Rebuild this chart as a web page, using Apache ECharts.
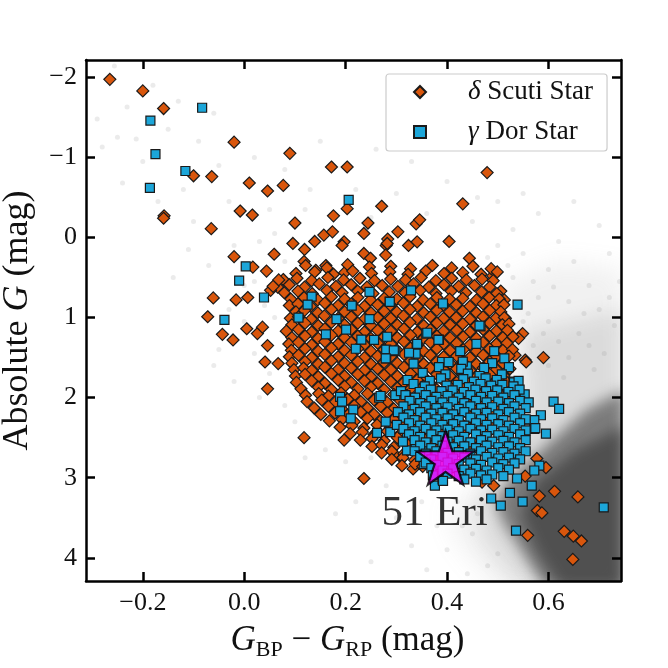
<!DOCTYPE html>
<html lang="en">
<head>
    <meta charset="UTF-8">
    <title>51 Eri CMD</title>
    <script src="https://cdn.jsdelivr.net/npm/echarts@6/dist/echarts.min.js"></script>
    <style>
        * { margin: 0; padding: 0; }
        body { background: #fff; }
        #paint { width: 668px; height: 668px; }
    </style>
</head>
<body>
<div id="paint"></div>
<script>
    // tick positions
    var xTicks = [-0.2, 0.0, 0.2, 0.4, 0.6];
    var yTicks = [-2, -1, 0, 1, 2, 3, 4];

    // field stars: faint single dots
    var fieldStars = [
        [-0.29,-1.48],[-0.256,-2.14],[-0.231,-1.63],[-0.25,-1.25],[-0.28,-1.13],[-0.213,-1.23],[-0.24,-0.68],
        [-0.18,-1.9],[-0.13,-1.7],[-0.06,-1.55],[-0.15,-1.35],[-0.09,-1.2],[-0.2,-0.95],[-0.12,-0.6],[-0.17,-0.45],
        [-0.05,-0.9],[0.02,-1.0],[-0.03,-0.45],[0.05,-0.35],[-0.1,-0.2],[0.08,-0.85],[0.13,-0.6],[0.15,-1.2],
        [0.06,-0.05],[-0.02,0.1],[0.03,0.05],[-0.07,0.35],[-0.11,0.15],[-0.14,0.5],[0.0,0.6],[-0.03,0.9],
        [0.02,0.55],[0.08,0.3],[0.12,-0.35],[0.22,-0.6],[0.25,-0.25],[0.3,-0.55],[0.36,-0.3],[0.4,-0.7],
        [0.33,-0.95],[0.26,-1.1],[0.04,0.85],[0.06,1.0],[0.02,1.45],[0.0,1.05],[-0.05,1.4],[0.05,1.7],
        [0.08,2.1],[0.1,2.3],[0.03,2.0],[-0.02,1.8],[-0.06,1.6],[0.14,2.2],[0.16,2.65],[0.2,2.8],[0.12,2.75],
        [0.25,2.75],[0.28,3.1],[0.22,3.3],[0.3,3.5],[0.18,3.45],[0.35,3.3],[0.25,4.05],[0.33,3.85],[0.38,3.6],
        [0.4,3.9],[0.36,4.15],[0.45,-0.2],[0.5,-0.45],[0.53,-0.1],[0.58,-0.3],[0.62,0.05],[0.55,0.2],[0.6,0.4],
        [0.65,0.3],[0.68,0.6],[0.72,0.2],[0.7,0.9],[0.64,0.8],[0.58,0.75],[0.53,0.5],[0.5,0.1],[0.48,0.25],
        [0.6,1.05],[0.66,1.2],[0.73,1.1],[0.71,1.45],[0.62,1.3],[0.56,0.95],[0.52,0.35],[0.57,0.55],[0.69,1.65],
        [0.63,1.75],[0.74,0.55],[0.46,-0.5],[0.55,-0.55],[0.65,-0.45],[0.7,-0.15],[0.42,3.3],[0.45,3.7],
        [0.48,4.1],[0.44,4.2],[0.5,3.95],[0.46,3.45],[0.43,3.6],[0.61,0.62],[0.67,0.95],[0.59,1.2],[0.72,0.75],
        [0.55,1.05],[0.64,1.5],[0.57,1.35],[0.68,1.35],[0.6,1.6]
    ];

    // field stars: density outlines, light to dark
    var fieldHazeOuter = [[0.50,0.6],[0.62,0.3],[0.75,0.4],[0.75,4.4],[0.50,4.4],[0.42,3.8],[0.40,3.4],[0.47,3.1],[0.53,2.2],[0.53,1.2]];
    var fieldHazeMid = [[0.55,1.2],[0.75,0.9],[0.75,4.4],[0.55,4.4],[0.47,3.75],[0.46,3.3],[0.52,2.7],[0.56,2.0]];
    var fieldHazeDark = [[0.75,1.9],[0.75,4.4],[0.595,4.4],[0.55,3.95],[0.51,3.55],[0.495,3.3],[0.525,3.0],[0.595,2.6],[0.675,2.15]];
    var fieldHazeCore = [[0.75,2.35],[0.75,4.4],[0.625,4.4],[0.575,3.9],[0.545,3.45],[0.575,3.05],[0.655,2.65]];

    // delta Scuti stars, isolated ones
    var scutiOutliers = [
        [-0.265,-1.975],[-0.200,-1.83],[-0.159,-1.61],[-0.020,-1.19],[0.090,-1.05],[-0.10,-0.77],[-0.064,-0.76],
        [0.010,-0.68],[0.046,-0.58],[0.077,-0.65],[-0.008,-0.33],[0.016,-0.28],[-0.158,-0.27],[-0.159,-0.24],
        [-0.065,-0.11],[0.10,-0.18],[0.096,0.075],[0.119,0.15],[0.139,0.05],[0.157,-0.03],[0.174,-0.07],
        [0.176,-0.27],[0.172,-0.88],[0.203,-0.88],[0.479,-0.81],[0.203,-0.36],[0.271,-0.39],[0.431,-0.42],
        [0.244,-0.18],[0.236,-0.05],[0.303,-0.07],[0.339,-0.17],[0.346,-0.22],[0.197,0.055],[0.193,0.10],
        [0.324,0.10],[0.341,0.055],[0.404,0.05],[0.283,0.02],[0.28,0.10],[0.444,0.26],[0.49,0.48],[-0.02,0.24],
        [0.059,0.21],[0.044,0.42],[0.017,0.37],[-0.061,0.755],[-0.016,0.78],[0.007,0.75],[-0.072,0.99],
        [0.005,1.14],[-0.043,1.21],[-0.022,1.28],[0.026,1.2],[0.036,1.12],[0.046,1.35],[0.041,1.555],
        [0.067,1.575],[0.046,1.89],[0.118,2.5],[0.197,2.53],[0.236,3.01],[0.333,2.89],[0.298,2.72],[0.311,2.76],
        [0.236,0.20],[0.249,0.26],[0.282,0.075],[0.279,0.22],[0.118,0.30],[0.141,0.41],[0.161,0.35],
        [0.198,0.44],[0.077,0.525],[0.066,0.62],[0.052,0.66],[0.506,0.67],[0.513,0.78],[0.526,1.22],
        [0.549,1.20],[0.541,1.26],[0.59,1.50],[0.554,1.53],[0.556,1.555],[0.518,1.49],[0.534,1.47],[0.515,1.01],
        [0.612,3.17],[0.658,3.24],[0.582,3.23],[0.578,3.41],[0.587,3.44],[0.559,3.72],[0.631,3.67],[0.649,3.73],
        [0.665,3.79],[0.648,4.02],[0.554,2.98],[0.595,2.875],[0.577,2.76],[0.469,3.055],[0.492,3.10]
    ];

    // delta Scuti stars, main clump
    var scutiCluster = [
        [0.121,0.35],[0.163,0.38],[0.204,0.34],[0.247,0.37],[0.289,0.36],[0.328,0.39],[0.371,0.35],[0.409,0.38],[0.451,0.36],[0.487,0.39],
        [0.102,0.45],[0.139,0.43],[0.176,0.46],[0.214,0.42],[0.251,0.45],[0.287,0.43],[0.323,0.46],[0.358,0.42],[0.394,0.45],[0.431,0.44],[0.467,0.46],[0.499,0.43],
        [0.068,0.53],[0.104,0.51],[0.133,0.54],[0.165,0.50],[0.196,0.53],[0.228,0.51],[0.257,0.54],[0.289,0.52],[0.318,0.53],[0.349,0.50],[0.378,0.54],[0.409,0.51],[0.438,0.53],[0.469,0.52],[0.491,0.54],
        [0.057,0.61],[0.089,0.59],[0.119,0.62],[0.148,0.58],[0.181,0.61],[0.211,0.59],[0.242,0.62],[0.272,0.60],[0.303,0.61],[0.334,0.58],[0.364,0.62],[0.394,0.59],[0.423,0.61],[0.454,0.60],[0.484,0.62],
        [0.079,0.69],[0.106,0.67],[0.134,0.70],[0.163,0.66],[0.193,0.69],[0.224,0.67],[0.254,0.70],[0.286,0.68],[0.317,0.69],[0.347,0.66],[0.378,0.70],[0.408,0.67],[0.437,0.69],[0.468,0.68],[0.498,0.70],
        [0.092,0.77],[0.118,0.75],[0.145,0.78],[0.172,0.74],[0.198,0.77],[0.224,0.75],[0.249,0.78],[0.276,0.76],[0.301,0.77],[0.327,0.74],[0.353,0.78],[0.380,0.75],[0.405,0.77],[0.431,0.76],[0.458,0.78],[0.483,0.75],[0.503,0.77],
        [0.089,0.85],[0.106,0.83],[0.131,0.86],[0.159,0.82],[0.185,0.85],[0.211,0.83],[0.237,0.86],[0.263,0.84],[0.288,0.85],[0.314,0.82],[0.341,0.86],[0.367,0.83],[0.392,0.85],[0.418,0.84],[0.445,0.86],[0.471,0.83],[0.497,0.85],[0.512,0.84],
        [0.102,0.93],[0.119,0.91],[0.145,0.94],[0.172,0.90],[0.198,0.93],[0.224,0.91],[0.250,0.94],[0.276,0.92],[0.301,0.93],[0.327,0.90],[0.354,0.94],[0.380,0.91],[0.405,0.93],[0.431,0.92],[0.458,0.94],[0.484,0.91],[0.506,0.93],
        [0.091,1.01],[0.107,0.99],[0.132,1.02],[0.158,0.98],[0.185,1.01],[0.211,0.99],[0.237,1.02],[0.263,1.00],[0.289,1.01],[0.314,0.98],[0.340,1.02],[0.367,0.99],[0.393,1.01],[0.418,1.00],[0.445,1.02],[0.471,0.99],[0.496,1.01],[0.513,1.00],
        [0.094,1.09],[0.120,1.07],[0.146,1.10],[0.172,1.06],[0.198,1.09],[0.224,1.07],[0.250,1.10],[0.276,1.08],[0.302,1.09],[0.327,1.06],[0.354,1.10],[0.380,1.07],[0.406,1.09],[0.431,1.08],[0.458,1.10],[0.484,1.07],[0.509,1.09],[0.522,1.08],
        [0.083,1.17],[0.107,1.15],[0.133,1.18],[0.159,1.14],[0.185,1.17],[0.211,1.15],[0.237,1.18],[0.263,1.16],[0.289,1.17],[0.315,1.14],[0.341,1.18],[0.367,1.15],[0.393,1.17],[0.419,1.16],[0.445,1.18],[0.471,1.15],[0.497,1.17],[0.519,1.16],
        [0.094,1.25],[0.120,1.23],[0.146,1.26],[0.172,1.22],[0.198,1.25],[0.224,1.23],[0.250,1.26],[0.276,1.24],[0.302,1.25],[0.328,1.22],[0.354,1.26],[0.380,1.23],[0.406,1.25],[0.432,1.24],[0.458,1.26],[0.484,1.23],[0.510,1.25],[0.530,1.24],
        [0.088,1.33],[0.107,1.31],[0.133,1.34],[0.159,1.30],[0.185,1.33],[0.211,1.31],[0.237,1.34],[0.263,1.32],[0.289,1.33],[0.315,1.30],[0.341,1.34],[0.367,1.31],[0.393,1.33],[0.419,1.32],[0.445,1.34],[0.471,1.31],[0.497,1.33],[0.518,1.32],
        [0.093,1.41],[0.120,1.39],[0.146,1.42],[0.172,1.38],[0.198,1.41],[0.224,1.39],[0.250,1.42],[0.276,1.40],[0.302,1.41],[0.328,1.38],[0.354,1.42],[0.380,1.39],[0.406,1.41],[0.432,1.40],[0.458,1.42],[0.484,1.39],[0.510,1.41],[0.529,1.40],
        [0.089,1.49],[0.107,1.47],[0.133,1.50],[0.159,1.46],[0.185,1.49],[0.211,1.47],[0.237,1.50],[0.263,1.48],[0.289,1.49],[0.315,1.46],[0.341,1.50],[0.367,1.47],[0.393,1.49],[0.419,1.48],[0.445,1.50],[0.471,1.47],[0.497,1.49],[0.522,1.48],
        [0.094,1.57],[0.120,1.55],[0.146,1.58],[0.172,1.54],[0.198,1.57],[0.224,1.55],[0.250,1.58],[0.276,1.56],[0.302,1.57],[0.328,1.54],[0.354,1.58],[0.380,1.55],[0.406,1.57],[0.432,1.56],[0.458,1.58],[0.484,1.55],[0.510,1.57],
        [0.098,1.65],[0.117,1.63],[0.133,1.66],[0.159,1.62],[0.185,1.65],[0.211,1.63],[0.237,1.66],[0.263,1.64],[0.289,1.65],[0.315,1.62],[0.341,1.66],[0.367,1.63],[0.393,1.65],[0.419,1.64],[0.445,1.66],[0.471,1.63],[0.497,1.65],[0.524,1.64],
        [0.101,1.73],[0.120,1.71],[0.146,1.74],[0.172,1.70],[0.198,1.73],[0.224,1.71],[0.250,1.74],[0.276,1.72],[0.302,1.73],[0.328,1.70],[0.354,1.74],[0.380,1.71],[0.406,1.73],[0.432,1.72],[0.458,1.74],[0.484,1.71],[0.512,1.73],
        [0.103,1.81],[0.133,1.79],[0.159,1.82],[0.185,1.78],[0.211,1.81],[0.237,1.79],[0.263,1.82],[0.289,1.80],[0.315,1.81],[0.341,1.78],[0.367,1.82],[0.393,1.79],[0.419,1.81],[0.445,1.80],[0.471,1.82],[0.497,1.79],[0.518,1.81],
        [0.112,1.89],[0.146,1.87],[0.172,1.90],[0.198,1.86],[0.224,1.89],[0.250,1.87],[0.276,1.90],[0.302,1.88],[0.328,1.89],[0.354,1.86],[0.380,1.90],[0.406,1.87],[0.432,1.89],[0.458,1.88],[0.484,1.90],[0.507,1.87],
        [0.121,1.97],[0.147,1.95],[0.166,1.98],[0.191,1.94],[0.217,1.97],[0.243,1.95],[0.269,1.98],[0.295,1.96],[0.321,1.97],[0.347,1.94],[0.373,1.98],[0.399,1.95],[0.425,1.97],[0.451,1.96],[0.477,1.98],[0.503,1.95],[0.521,1.97],
        [0.124,2.05],[0.153,2.03],[0.179,2.06],[0.204,2.02],[0.230,2.05],[0.256,2.03],[0.282,2.06],[0.308,2.04],[0.334,2.05],[0.360,2.02],[0.386,2.06],[0.412,2.03],[0.438,2.05],[0.464,2.04],[0.490,2.06],[0.511,2.03],
        [0.138,2.13],[0.166,2.11],[0.192,2.14],[0.217,2.10],[0.243,2.13],[0.269,2.11],[0.295,2.14],[0.321,2.12],[0.347,2.13],[0.373,2.10],[0.399,2.14],[0.425,2.11],[0.451,2.13],[0.477,2.12],[0.503,2.14],
        [0.151,2.21],[0.179,2.19],[0.204,2.22],[0.230,2.18],[0.256,2.21],[0.282,2.19],[0.308,2.22],[0.334,2.20],[0.360,2.21],[0.386,2.18],[0.412,2.22],[0.438,2.19],[0.464,2.21],[0.492,2.20],
        [0.168,2.29],[0.193,2.27],[0.217,2.30],[0.243,2.26],[0.269,2.29],[0.295,2.27],[0.321,2.30],[0.347,2.28],[0.373,2.29],[0.399,2.26],[0.425,2.30],[0.451,2.27],[0.477,2.29],[0.499,2.28],
        [0.189,2.37],[0.212,2.35],[0.236,2.38],[0.262,2.34],[0.288,2.37],[0.314,2.35],[0.340,2.38],[0.366,2.36],[0.392,2.37],[0.418,2.34],[0.444,2.38],[0.470,2.35],[0.489,2.37],
        [0.209,2.45],[0.233,2.43],[0.256,2.46],[0.282,2.42],[0.308,2.45],[0.334,2.43],[0.360,2.46],[0.386,2.44],[0.412,2.45],[0.438,2.42],[0.464,2.46],[0.481,2.44],
        [0.229,2.53],[0.252,2.51],[0.276,2.54],[0.302,2.50],[0.328,2.53],[0.354,2.51],[0.380,2.54],[0.406,2.52],[0.432,2.53],[0.458,2.50],
        [0.252,2.61],[0.271,2.59],[0.295,2.62],[0.321,2.58],[0.347,2.61],[0.373,2.59],[0.399,2.62],[0.425,2.60],[0.441,2.61],
        [0.271,2.69],[0.291,2.67],[0.315,2.70],[0.341,2.66],[0.367,2.69],[0.393,2.67],[0.412,2.70],
        [0.291,2.77],[0.313,2.75],[0.336,2.78],[0.361,2.74],[0.379,2.77],
        [0.311,2.85],[0.337,2.83],[0.352,2.86]
    ];

    // gamma Dor stars, isolated ones
    var gammaDorOutliers = [
        [-0.083,-1.62],[-0.185,-1.46],[-0.175,-1.04],[-0.116,-0.83],[-0.186,-0.62],[0.206,-0.47],[0.003,0.36],
        [-0.010,0.54],[0.039,0.75],[-0.039,1.03],[0.539,0.84],[0.133,0.74],[0.125,0.84],[0.107,1.0],[0.182,1.02],
        [0.212,0.85],[0.247,0.68],[0.247,1.02],[0.256,1.28],[0.201,1.15],[0.161,1.21],[0.22,1.39],[0.282,1.24],
        [0.28,1.40],[0.28,1.51],[0.329,0.66],[0.287,0.80],[0.392,0.825],[0.466,1.11],[0.359,1.20],[0.231,1.275],
        [0.384,1.275],[0.458,1.33],[0.298,1.42],[0.34,1.33],[0.338,1.45],[0.325,1.44],[0.426,1.42],[0.493,1.42],
        [0.513,1.51],[0.393,1.56],[0.334,1.575],[0.439,1.61],[0.361,1.19],[0.341,1.33],[0.295,1.41],[0.383,1.28],
        [0.279,1.51],[0.39,1.555],[0.403,1.555],[0.287,0.805],[0.464,1.10],[0.189,1.99],[0.193,2.05],[0.189,2.17],
        [0.215,2.15],[0.21,2.26],[0.266,2.0],[0.262,2.44],[0.279,2.30],[0.288,2.43],[0.298,1.97],[0.269,1.98],
        [0.321,2.45],[0.321,2.66],[0.376,3.10],[0.391,3.02],[0.354,2.83],[0.338,2.64],[0.357,2.66],
        [0.531,1.80],[0.552,1.97],[0.61,2.05],[0.621,2.14],[0.585,2.22],[0.595,2.45],[0.572,2.28],[0.572,2.39],
        [0.552,2.275],[0.567,3.10],[0.538,3.01],[0.709,3.37],[0.536,3.66],[0.549,3.30],[0.506,3.35],[0.487,3.26],
        [0.524,3.19],[0.582,2.85],[0.572,2.91],[0.574,2.38],[0.553,1.96],[0.532,1.81]
    ];

    // gamma Dor stars, main clump
    var gammaDorCluster = [
        [0.431,1.55],[0.489,1.57],
        [0.384,1.62],[0.428,1.64],[0.473,1.63],[0.522,1.62],
        [0.352,1.69],[0.397,1.71],[0.441,1.70],[0.464,1.73],[0.508,1.71],
        [0.322,1.78],[0.366,1.79],[0.388,1.76],[0.432,1.77],[0.453,1.80],[0.476,1.76],[0.498,1.78],[0.541,1.79],
        [0.334,1.83],[0.356,1.86],[0.399,1.85],[0.421,1.84],[0.443,1.87],[0.466,1.83],[0.487,1.85],[0.509,1.84],[0.531,1.86],
        [0.309,1.92],[0.346,1.93],[0.368,1.90],[0.389,1.92],[0.411,1.91],[0.433,1.93],[0.456,1.90],[0.477,1.92],[0.499,1.91],[0.521,1.93],[0.543,1.90],
        [0.318,1.97],[0.337,2.00],[0.358,1.97],[0.379,1.99],[0.401,1.98],[0.423,2.00],[0.446,1.97],[0.467,1.99],[0.489,1.98],[0.511,2.00],[0.533,1.97],
        [0.326,2.04],[0.347,2.07],[0.369,2.04],[0.391,2.06],[0.412,2.05],[0.434,2.07],[0.457,2.04],[0.478,2.06],[0.501,2.05],[0.522,2.07],[0.544,2.04],[0.561,2.06],
        [0.314,2.11],[0.336,2.14],[0.358,2.11],[0.379,2.13],[0.401,2.12],[0.423,2.14],[0.446,2.11],[0.467,2.13],[0.489,2.12],[0.511,2.14],[0.533,2.11],[0.555,2.13],
        [0.303,2.18],[0.325,2.21],[0.347,2.18],[0.369,2.20],[0.391,2.19],[0.412,2.21],[0.434,2.18],[0.457,2.20],[0.478,2.19],[0.501,2.21],[0.522,2.18],[0.544,2.20],
        [0.314,2.25],[0.336,2.28],[0.358,2.25],[0.379,2.27],[0.401,2.26],[0.423,2.28],[0.446,2.25],[0.467,2.27],[0.489,2.26],[0.511,2.28],[0.533,2.25],[0.555,2.27],
        [0.301,2.34],[0.325,2.32],[0.347,2.35],[0.369,2.32],[0.391,2.34],[0.412,2.33],[0.434,2.35],[0.457,2.32],[0.478,2.34],[0.501,2.33],[0.522,2.35],[0.544,2.32],
        [0.314,2.39],[0.336,2.42],[0.358,2.39],[0.379,2.41],[0.401,2.40],[0.423,2.42],[0.446,2.39],[0.467,2.41],[0.489,2.40],[0.511,2.42],[0.533,2.39],[0.555,2.41],
        [0.325,2.46],[0.347,2.49],[0.369,2.46],[0.391,2.48],[0.412,2.47],[0.434,2.49],[0.457,2.46],[0.478,2.48],[0.501,2.47],[0.522,2.49],[0.544,2.46],
        [0.313,2.55],[0.336,2.53],[0.358,2.56],[0.379,2.53],[0.401,2.55],[0.423,2.54],[0.446,2.56],[0.467,2.53],[0.489,2.55],[0.511,2.54],[0.533,2.56],[0.555,2.53],
        [0.347,2.60],[0.369,2.63],[0.391,2.60],[0.412,2.62],[0.434,2.61],[0.457,2.63],[0.478,2.60],[0.501,2.62],[0.522,2.61],[0.544,2.63],
        [0.336,2.67],[0.358,2.70],[0.379,2.67],[0.401,2.69],[0.423,2.68],[0.446,2.70],[0.467,2.67],[0.489,2.69],[0.511,2.68],[0.533,2.70],[0.555,2.67],
        [0.347,2.74],[0.369,2.77],[0.391,2.74],[0.412,2.76],[0.434,2.75],[0.457,2.77],[0.478,2.74],[0.501,2.76],[0.522,2.75],[0.544,2.77],
        [0.358,2.81],[0.379,2.84],[0.401,2.81],[0.423,2.83],[0.446,2.82],[0.467,2.84],[0.489,2.81],[0.511,2.83],[0.533,2.82],
        [0.369,2.88],[0.391,2.91],[0.412,2.88],[0.434,2.90],[0.457,2.89],[0.478,2.91],[0.501,2.88],[0.522,2.90],
        [0.372,2.97],[0.401,2.95],[0.423,2.98],[0.446,2.95],[0.467,2.97],[0.489,2.96],[0.511,2.98],
        [0.392,3.04],[0.434,3.02],[0.457,3.05],[0.478,3.02]
    ];

    // 51 Eri itself
    var eri51 = [0.397, 2.75];

    var serif = 'Liberation Serif';
    var orange = '#d9560c';
    var blue = '#1ca6d9';
    var starPath = 'path://M50,0L61.2,34.5L97.6,34.5L68.2,55.9L79.4,90.5L50,69.1L20.6,90.5L31.8,55.9L2.4,34.5L38.8,34.5Z';

    function minusFmt(v, digits) {
        var s = Math.abs(v).toFixed(digits);
        return v < 0 ? '\u2212' + s : s;
    }

    // soft grey cloud: the shape sits off canvas, only its blurred shadow lands in the plot
    var SHIFT = 3000;
    function hazeSeries(verts, color, blur) {
        return {
            type: 'custom',
            silent: true,
            z: 1,
            data: [[0, 0]],
            renderItem: function (params, api) {
                var cs = params.coordSys;
                return {
                    type: 'group',
                    clipPath: { type: 'rect', shape: { x: cs.x, y: cs.y, width: cs.width, height: cs.height } },
                    children: [{
                        type: 'polygon',
                        shape: {
                            points: verts.map(function (v) {
                                var p = api.coord(v);
                                return [p[0] - SHIFT, p[1]];
                            })
                        },
                        style: { fill: '#000', shadowBlur: blur, shadowColor: color, shadowOffsetX: SHIFT }
                    }]
                };
            }
        };
    }

    var mychart = echarts.init(document.getElementById('paint'));

    var axisBase = {
        type: 'value',
        z: 10,
        splitLine: { show: false },
        axisLine: { onZero: false, lineStyle: { color: '#000', width: 2.5 } },
        axisTick: { inside: true, length: 9, lineStyle: { color: '#000', width: 2.5 } }
    };

    var option = {
        animation: false,
        backgroundColor: '#fff',
        grid: { left: 86, right: 47, top: 60, bottom: 87, outerBoundsMode: 'none', containLabel: false },
        legend: {
            orient: 'vertical',
            left: 386,
            top: 74,
            padding: [4, 14, 5, 27],
            itemWidth: 12,
            itemHeight: 12,
            itemGap: 12,
            borderColor: '#cccccc',
            borderWidth: 1.2,
            borderRadius: 3,
            backgroundColor: 'rgba(255,255,255,0.85)',
            data: [
                { name: '\u03b4 Scuti Star', icon: 'diamond' },
                { name: '\u03b3 Dor Star', icon: 'rect' }
            ],
            formatter: function (name) {
                return '{g|' + name.charAt(0) + '}' + name.slice(1);
            },
            textStyle: {
                fontFamily: serif,
                fontSize: 27,
                lineHeight: 28,
                color: '#111',
                padding: [0, 0, 0, 37],
                rich: { g: { fontFamily: serif, fontStyle: 'italic', fontSize: 27, color: '#111' } }
            }
        },
        xAxis: [
            Object.assign({}, axisBase, {
                position: 'bottom',
                min: -0.312,
                max: 0.743,
                axisTick: Object.assign({}, axisBase.axisTick, { customValues: xTicks }),
                axisLabel: {
                    customValues: xTicks,
                    formatter: function (v) { return minusFmt(v, 1); },
                    fontFamily: serif,
                    fontSize: 26,
                    color: '#111',
                    margin: 9
                },
                name: '{i|G}{s|BP} \u2212 {i|G}{s|RP} (mag)',
                nameLocation: 'middle',
                nameGap: 26,
                nameTextStyle: {
                    fontFamily: serif,
                    fontSize: 35,
                    lineHeight: 40,
                    color: '#111',
                    padding: [0, 12, 0, 0],
                    rich: {
                        i: { fontFamily: serif, fontStyle: 'italic', fontSize: 35, lineHeight: 40, color: '#111' },
                        s: { fontFamily: serif, fontSize: 22, lineHeight: 20, verticalAlign: 'bottom', color: '#111' }
                    }
                }
            }),
            Object.assign({}, axisBase, {
                position: 'top',
                min: -0.312,
                max: 0.743,
                axisTick: Object.assign({}, axisBase.axisTick, { customValues: xTicks }),
                axisLabel: { show: false }
            })
        ],
        yAxis: [
            Object.assign({}, axisBase, {
                position: 'left',
                inverse: true,
                min: -2.216,
                max: 4.29,
                axisTick: Object.assign({}, axisBase.axisTick, { customValues: yTicks }),
                axisLabel: {
                    customValues: yTicks,
                    formatter: function (v) { return minusFmt(v, 0); },
                    fontFamily: serif,
                    fontSize: 26,
                    color: '#111',
                    margin: 9
                },
                name: 'Absolute {i|G} (mag)',
                nameLocation: 'middle',
                nameGap: 50,
                nameTextStyle: {
                    fontFamily: serif,
                    fontSize: 36,
                    color: '#111',
                    rich: { i: { fontFamily: serif, fontStyle: 'italic', fontSize: 36, color: '#111' } }
                }
            }),
            Object.assign({}, axisBase, {
                position: 'right',
                inverse: true,
                min: -2.216,
                max: 4.29,
                axisTick: Object.assign({}, axisBase.axisTick, { customValues: yTicks }),
                axisLabel: { show: false }
            })
        ],
        series: [
            hazeSeries(fieldHazeOuter, 'rgba(150,150,150,0.13)', 24),
            hazeSeries(fieldHazeMid, 'rgba(120,120,120,0.18)', 20),
            hazeSeries(fieldHazeDark, 'rgba(60,60,60,0.6)', 14),
            hazeSeries(fieldHazeCore, 'rgba(52,52,52,0.6)', 14),
            {
                type: 'scatter',
                silent: true,
                z: 2,
                symbol: 'circle',
                symbolSize: 5,
                itemStyle: { color: 'rgba(140,140,140,0.22)' },
                data: fieldStars
            },
            {
                name: '\u03b4 Scuti Star',
                type: 'scatter',
                z: 3,
                symbol: 'diamond',
                symbolSize: 12,
                itemStyle: { color: orange, borderColor: '#1a1a1a', borderWidth: 1.2, opacity: 1 },
                data: scutiOutliers.concat(scutiCluster)
            },
            {
                name: '\u03b3 Dor Star',
                type: 'scatter',
                z: 4,
                symbol: 'rect',
                symbolSize: 9,
                itemStyle: { color: blue, borderColor: '#1a1a1a', borderWidth: 1.2, opacity: 1 },
                data: gammaDorOutliers.concat(gammaDorCluster)
            },
            {
                type: 'scatter',
                z: 5,
                symbol: starPath,
                symbolSize: [57, 54],
                itemStyle: { color: '#ff00ff', borderColor: '#000', borderWidth: 2.2 },
                label: {
                    show: true,
                    position: 'inside',
                    offset: [-11, 56],
                    formatter: '51 Eri',
                    fontFamily: serif,
                    fontSize: 43,
                    color: '#000',
                    textBorderWidth: 0
                },
                data: [eri51]
            }
        ]
    };
    mychart.setOption(option);
</script>
</body>
</html>
